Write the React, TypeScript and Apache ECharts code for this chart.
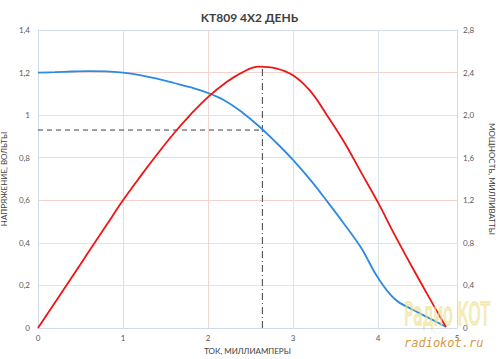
import React, { useEffect, useRef } from "react";
import * as echarts from "echarts";

const titleText = "KT809 4X2 ДЕНЬ";
const xName = "ТОК, МИЛЛИАМПЕРЫ";
const leftName = "НАПРЯЖЕНИЕ, ВОЛЬТЫ";
const rightName = "МОЩНОСТЬ, МИЛЛИВАТТЫ";

// current samples (shared by both curves)
const currentX = [0, 0.2, 0.4, 0.6, 0.8, 1.0, 1.2, 1.4, 1.6, 1.8, 2.0, 2.2, 2.4, 2.6, 2.8, 3.0, 3.2, 3.4, 3.6, 3.8, 4.0, 4.2, 4.4, 4.6, 4.8];
// voltage (left axis)
const voltageY = [1.2, 1.202, 1.205, 1.207, 1.206, 1.2, 1.188, 1.171, 1.151, 1.13, 1.104, 1.068, 1.014, 0.948, 0.872, 0.79, 0.698, 0.596, 0.49, 0.378, 0.236, 0.135, 0.088, 0.047, 0.006];
// power (right axis)
const powerY = [0, 0.24, 0.48, 0.72, 0.96, 1.2, 1.42, 1.63, 1.83, 2.01, 2.17, 2.3, 2.4, 2.455, 2.44, 2.375, 2.23, 2.0, 1.75, 1.465, 1.18, 0.87, 0.575, 0.29, 0.01];

// marker dashed lines
const markX = 2.64;
const markV = 0.93;
const markTopV = 1.23;

const leftTicks = { min: 0, max: 1.4, interval: 0.2 };
const rightTicks = { min: 0, max: 2.8, interval: 0.4 };
const xTicks = { min: 0, max: 4.93, interval: 1 };

export default function App() {
  const ref = useRef<HTMLDivElement>(null);
  useEffect(() => {
    if (!ref.current) return;
    const chart = echarts.init(ref.current, undefined, { renderer: "svg" });
    const font = "Lato, 'Open Sans', sans-serif";
    const labelColor = "#595959";
    chart.setOption({
      animation: false,
      textStyle: { fontFamily: font },
      title: {
        text: titleText,
        left: "center",
        top: 6,
        textStyle: { fontSize: 12, fontWeight: "bold", color: "#404040", fontFamily: font },
      },
      grid: { left: 38, right: 42, top: 30, bottom: 31, outerBoundsMode: "none", containLabel: false },
      xAxis: {
        type: "value",
        ...xTicks,
        name: xName,
        nameLocation: "middle",
        nameGap: 18,
        nameTextStyle: { fontSize: 8, color: "#404040" },
        axisLine: { lineStyle: { color: "#cfdbe6" } },
        axisTick: { show: false },
        axisLabel: {
          fontSize: 8,
          color: labelColor,
          margin: 6,
          formatter: (v: number) => (v > 4.9 ? "5" : String(Math.round(v))),
        },
        splitLine: {
          lineStyle: { color: ["#cfdbe6", "#d6e2ec", "#f0d6ce", "#ece6b4", "#d6e2ec", "#cfdbe6"] },
        },
      },
      yAxis: [
        {
          type: "value",
          ...leftTicks,
          name: leftName,
          nameLocation: "middle",
          nameGap: 24,
          nameTextStyle: { fontSize: 8, color: "#404040" },
          axisLine: { show: true, lineStyle: { color: "#cfdbe6" } },
          axisTick: { show: false },
          axisLabel: {
            fontSize: 8,
            color: labelColor,
            margin: 8,
            formatter: (v: number) => String(+v.toFixed(1)).replace(".", ","),
          },
          splitLine: {
            lineStyle: {
              color: ["#cfdbe6", "#efe4cc", "#dde6ea", "#f2d4cc", "#ece6b4", "#ece6b4", "#f2d4cc", "#cfdbe6"],
            },
          },
        },
        {
          type: "value",
          ...rightTicks,
          name: rightName,
          nameLocation: "middle",
          nameRotate: -90,
          nameGap: 31,
          nameTextStyle: { fontSize: 8, color: "#404040" },
          position: "right",
          axisLine: { show: true, lineStyle: { color: "#cfdbe6" } },
          axisTick: { show: false },
          axisLabel: {
            fontSize: 8,
            color: labelColor,
            margin: 6,
            formatter: (v: number) => (v === 0 ? "0" : v.toFixed(1).replace(".", ",")),
          },
          splitLine: { show: false },
        },
      ],
      series: [
        {
          type: "line",
          yAxisIndex: 0,
          data: currentX.map((x, i) => [x, voltageY[i]]),
          smooth: 0.4,
          showSymbol: false,
          lineStyle: { color: "#2a8ae6", width: 1.8 },
          z: 3,
        },
        {
          type: "line",
          yAxisIndex: 1,
          data: currentX.map((x, i) => [x, powerY[i]]),
          smooth: 0.4,
          showSymbol: false,
          lineStyle: { color: "#f01414", width: 1.8 },
          z: 4,
        },
        {
          type: "line",
          yAxisIndex: 0,
          data: [[0, markV], [markX, markV]],
          showSymbol: false,
          lineStyle: { color: "#404040", width: 1, type: [5, 4] },
          z: 2,
        },
        {
          type: "line",
          yAxisIndex: 0,
          data: [[markX, 0], [markX, markTopV]],
          showSymbol: false,
          lineStyle: { color: "#404040", width: 1, type: [7, 3, 1, 3] },
          z: 2,
        },
      ],
      graphic: [
        {
          type: "text",
          x: 404,
          y: 298,
          scaleX: 0.95,
          scaleY: 1.8,
          z: 10,
          style: {
            text: "Радио КОТ",
            fontSize: 18,
            fontFamily: "'DejaVu Sans Condensed', 'Liberation Sans Narrow', sans-serif",
            verticalAlign: "top",
            fill: "rgba(245,232,150,0.55)",
            stroke: "rgba(225,210,120,0.55)",
            lineWidth: 0.8,
          },
        },
        {
          type: "text",
          x: 404,
          y: 337,
          z: 11,
          style: {
            text: "radiokot.ru",
            fontSize: 12,
            fontStyle: "italic",
            fontFamily: "'DejaVu Sans Mono', monospace",
            verticalAlign: "top",
            fill: "#d29a44",
          },
        },
      ],
    });
    return () => chart.dispose();
  }, []);
  return <div ref={ref} style={{ width: 499, height: 359, position: "absolute", left: 0, top: 0 }} />;
}
